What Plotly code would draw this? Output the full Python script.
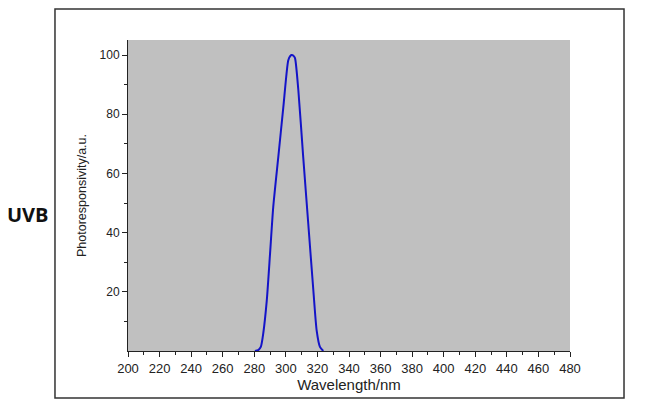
import plotly.graph_objects as go

wavelength = [280.4, 282.5, 284.2, 285.7, 287.9, 290.0, 292.0, 295.2, 298.4, 301.5, 302.8, 303.7,
              304.8, 305.8, 307.9, 311.0, 314.2, 317.4, 319.5, 321.6, 323.7]
response = [0, 0.3, 1.5, 6, 17, 33, 48.6, 65.5, 82.4, 98.2, 99.7, 100,
            99.8, 99, 88.2, 65.5, 43, 20.6, 7, 1.4, 0]

x_ticks = list(range(200, 481, 20))
y_ticks = [20, 40, 60, 80, 100]

fig = go.Figure()
fig.add_trace(go.Scatter(x=wavelength, y=response, mode="lines",
                         line=dict(color="#1414C8", width=2, shape="spline", smoothing=0.6),
                         showlegend=False, hoverinfo="skip"))

font_main = "Liberation Sans, Arial, sans-serif"
fig.update_layout(
    width=660, height=410,
    margin=dict(l=128, r=90, t=40, b=59),
    paper_bgcolor="white", plot_bgcolor="#C0C0C0",
    font=dict(family=font_main, size=12, color="#222"),
    xaxis=dict(range=[200, 480], tickvals=x_ticks, ticktext=[str(v) for v in x_ticks],
               ticks="outside", ticklen=5, tickcolor="#222", showline=True, linecolor="#222", linewidth=1,
               showgrid=False, zeroline=False,
               minor=dict(dtick=10, tick0=200, ticks="outside", ticklen=3, tickcolor="#222"),
               title=dict(text="Wavelength/nm", font=dict(size=15), standoff=3),
               tickfont=dict(size=13)),
    yaxis=dict(range=[0, 105.1], tickvals=y_ticks, ticktext=[str(v) for v in y_ticks],
               ticks="outside", ticklen=5, tickcolor="#222", showline=True, linecolor="#222", linewidth=1,
               showgrid=False, zeroline=False,
               minor=dict(tickvals=[10, 30, 50, 70, 90], ticks="outside", ticklen=3, tickcolor="#222"),
               title=dict(text="Photoresponsivity/a.u.", font=dict(size=12.5), standoff=10),
               tickfont=dict(size=12)),
    shapes=[dict(type="rect", xref="paper", yref="paper",
                 x0=-0.1652, x1=1.1222, y0=-0.1511, y1=1.0997,
                 line=dict(color="#333", width=1.5), fillcolor="rgba(0,0,0,0)", layer="below")],
    annotations=[dict(text="<b>UVB</b>", xref="paper", yref="paper",
                      x=(28 - 128) / 442, y=(351 - 214) / 311, xanchor="center", yanchor="middle",
                      showarrow=False, font=dict(family="Open Sans, sans-serif", size=20, color="#111"))],
)

fig.write_html("out.html", config={"displayModeBar": False},
               post_script="document.body.style.margin='0';")
